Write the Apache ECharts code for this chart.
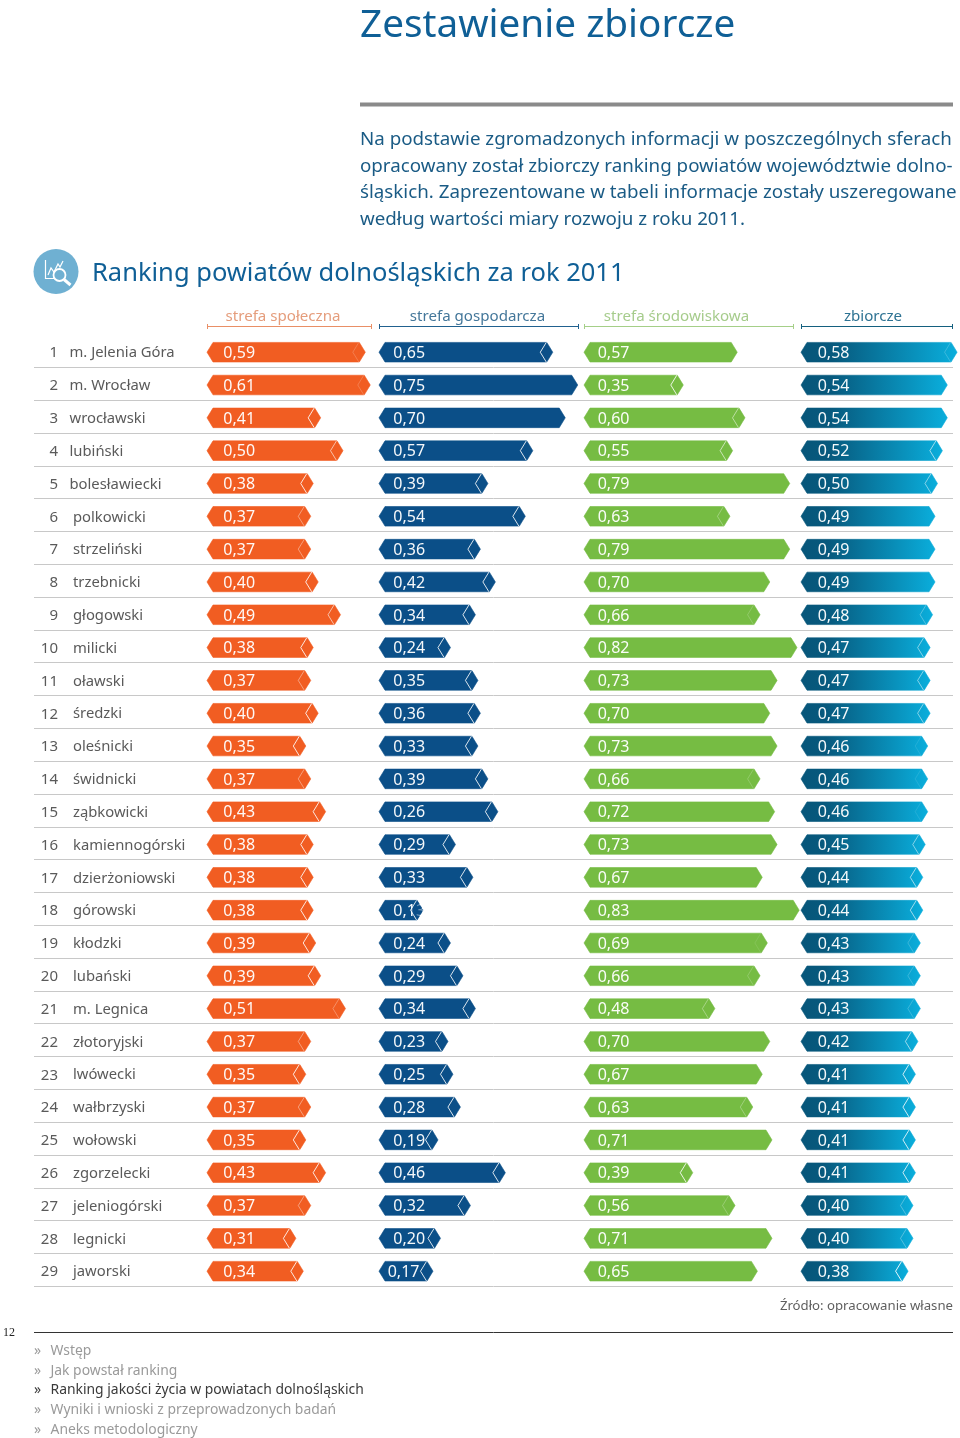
<!DOCTYPE html>
<html><head><meta charset="utf-8">
<style>html,body{margin:0;padding:0;background:#fff}#c{width:960px;height:1438px}</style>
<script src="https://cdn.jsdelivr.net/npm/echarts@6/dist/echarts.min.js"></script>
</head><body><div id="c"></div>
<script>
var powiaty = ["m. Jelenia Góra","m. Wrocław","wrocławski","lubiński","bolesławiecki","polkowicki","strzeliński","trzebnicki","głogowski","milicki","oławski","średzki","oleśnicki","świdnicki","ząbkowicki","kamiennogórski","dzierżoniowski","górowski","kłodzki","lubański","m. Legnica","złotoryjski","lwówecki","wałbrzyski","wołowski","zgorzelecki","jeleniogórski","legnicki","jaworski"];
var etykietySpoleczna = ["0,59","0,61","0,41","0,50","0,38","0,37","0,37","0,40","0,49","0,38","0,37","0,40","0,35","0,37","0,43","0,38","0,38","0,38","0,39","0,39","0,51","0,37","0,35","0,37","0,35","0,43","0,37","0,31","0,34"];
var etykietyGospodarcza = ["0,65","0,75","0,70","0,57","0,39","0,54","0,36","0,42","0,34","0,24","0,35","0,36","0,33","0,39","0,26","0,29","0,33","0,13","0,24","0,29","0,34","0,23","0,25","0,28","0,19","0,46","0,32","0,20","0,17"];
var etykietySrodowiskowa = ["0,57","0,35","0,60","0,55","0,79","0,63","0,79","0,70","0,66","0,82","0,73","0,70","0,73","0,66","0,72","0,73","0,67","0,83","0,69","0,66","0,48","0,70","0,67","0,63","0,71","0,39","0,56","0,71","0,65"];
var etykietyZbiorcze = ["0,58","0,54","0,54","0,52","0,50","0,49","0,49","0,49","0,48","0,47","0,47","0,47","0,46","0,46","0,46","0,45","0,44","0,44","0,43","0,43","0,43","0,42","0,41","0,41","0,41","0,41","0,40","0,40","0,38"];
// bar lengths as drawn in the picture (a few differ from their printed labels)
var paskiSpoleczna = [0.59,0.61,0.41,0.50,0.38,0.37,0.37,0.40,0.49,0.38,0.37,0.40,0.35,0.37,0.43,0.38,0.38,0.38,0.39,0.41,0.51,0.37,0.35,0.37,0.35,0.43,0.37,0.31,0.34];
var paskiGospodarcza = [0.65,0.75,0.70,0.57,0.39,0.54,0.36,0.42,0.34,0.24,0.35,0.36,0.35,0.39,0.43,0.26,0.33,0.13,0.24,0.29,0.34,0.23,0.25,0.28,0.19,0.46,0.32,0.20,0.17];
var paskiSrodowiskowa = [0.573,0.351,0.605,0.554,0.789,0.543,0.789,0.707,0.667,0.819,0.737,0.707,0.737,0.667,0.727,0.737,0.676,0.828,0.697,0.667,0.481,0.707,0.676,0.637,0.716,0.390,0.564,0.716,0.656];
var paskiZbiorcze = [0.58,0.54,0.54,0.52,0.50,0.49,0.49,0.49,0.48,0.47,0.47,0.47,0.46,0.46,0.46,0.45,0.44,0.44,0.43,0.43,0.43,0.42,0.41,0.41,0.41,0.41,0.40,0.40,0.38];
var naglowki = ["strefa społeczna","strefa gospodarcza","strefa środowiskowa","zbiorcze"];
var akapit = ["Na podstawie zgromadzonych informacji w poszczególnych sferach","opracowany został zbiorczy ranking powiatów województwie dolno-","śląskich. Zaprezentowane w tabeli informacje zostały uszeregowane","według wartości miary rozwoju z roku 2011."];
var nawigacja = ["Wstęp","Jak powstał ranking","Ranking jakości życia w powiatach dolnośląskich","Wyniki i wnioski z przeprowadzonych badań","Aneks metodologiczny"];

var FONT = '"Noto Sans"';
var gradZb = new echarts.graphic.LinearGradient(0,0,1,0,[{offset:0,color:'#07567a'},{offset:0.2,color:'#07597d'},{offset:1,color:'#0aaedc'}]);
var columns = [
 {left:207,b:248,zero:219,maxV:0.9,fill:'#f15d22',lab:etykietySpoleczna,val:paskiSpoleczna,off:16.3,brEnd:372,head:283,line:'#e98f66',text:'#e59d7c',
  fade:{'0,37':.4,'0,49':.6,'0,50':.6,'0,51':.3,'0,59':.2,'0,61':.2}, def:.85},
 {left:379,b:249.5,zero:390.6,maxV:0.9,fill:'#0b4f88',lab:etykietyGospodarcza,val:paskiGospodarcza,off:14.3,brEnd:579,head:477.5,line:'#21618f',text:'#44779a',
  fade:{'0,70':0,'0,75':0}, def:.85},
 {left:584,b:243,zero:598,maxV:0.9,fill:'#76bc43',lab:etykietySrodowiskowa,val:paskiSrodowiskowa,off:13.7,brEnd:794,head:676.5,line:'#a5cf88',text:'#a6cc8c',
  fade:{'0,35':.85,'0,39':.85,'0,48':.35,'0,55':.6,'0,56':.25,'0,60':.5,'0,63':.3,'0,66':.2,'0,69':.1}, def:0},
 {left:801,b:245,zero:815,maxV:0.59,fill:gradZb,lab:etykietyZbiorcze,val:paskiZbiorcze,off:16.7,brEnd:953,head:873,line:'#14607f',text:'#2e7393',
  fade:{'0,38':.9,'0,40':.3,'0,41':.8,'0,42':.6,'0,43':.2,'0,44':.6,'0,45':.5,'0,46':.1,'0,47':.5,'0,48':.3,'0,49':0,'0,50':.5,'0,52':.6,'0,54':0,'0,58':.2}, def:.5}
];
var ROWS_H = 951.8;
var grids=[],xAxes=[],yAxes=[],series=[];
// table frame: separators + row names
grids.push({left:34,width:919,top:334.5,height:ROWS_H});
xAxes.push({type:'value',show:false,min:0,max:1,gridIndex:0});
yAxes.push({type:'category',inverse:true,gridIndex:0,data:powiaty,axisLine:{show:false},axisTick:{show:false},axisLabel:{show:false},
  splitLine:{show:true,showMinLine:false,showMaxLine:true,lineStyle:{color:'#c8c8c8',width:1}}});
series.push({type:'custom',xAxisIndex:0,yAxisIndex:0,silent:true,clip:false,animation:false,
  data:powiaty.map(function(n,i){return [0,i];}),
  renderItem:function(p,api){
    var i=p.dataIndex, y=api.coord([0,i])[1]+2.3, nameX = i<5?69.5:73;
    return {type:'group',children:[
      {type:'text',style:{text:String(i+1),x:58,y:y,align:'right',verticalAlign:'middle',fill:'#5a5a5a',fontSize:15,fontFamily:FONT}},
      {type:'text',style:{text:powiaty[i],x:nameX,y:y,align:'left',verticalAlign:'middle',fill:'#5a5a5a',fontSize:14.8,fontFamily:FONT}}
    ]};
  }});
columns.forEach(function(c,k){
  var min=-(c.zero-c.left)/c.b, gi=k+1;
  grids.push({left:c.left,width:c.b*(c.maxV-min),top:335.8,height:ROWS_H});
  xAxes.push({type:'value',show:false,gridIndex:gi,min:min,max:c.maxV});
  yAxes.push({type:'category',show:false,inverse:true,gridIndex:gi,data:powiaty});
  series.push({type:'custom',xAxisIndex:gi,yAxisIndex:gi,silent:true,clip:false,animation:false,
    data:c.val.map(function(v,i){return [v,i];}),
    renderItem:function(p,api){
      var i=p.dataIndex, pt=api.coord([api.value(0),api.value(1)]), tip=pt[0], y=pt[1];
      var L=p.coordSys.x, h=9.8, t=6, lab=c.lab[i];
      var a=(lab in c.fade)?c.fade[lab]:c.def;
      var dx=(lab==='0,17')?-5.6:0;
      var tx=L+c.off+dx;
      var kids=[{type:'polygon',shape:{points:[[L,y],[L+t,y-h],[tip-t,y-h],[tip,y],[tip-t,y+h],[L+t,y+h]]},
        style:{fill:c.fill,stroke:c.fill,lineWidth:.6,lineJoin:'round'}},
        {type:'text',style:{text:lab,x:tx,y:y+1.2,align:'left',verticalAlign:'middle',fill:'#fff',opacity:.96,fontSize:16,fontFamily:FONT}}];
      if(tx+31>tip-12){ kids.push({type:'polygon',shape:{points:[[tip-t,y-h],[tip,y],[tip-t,y+h],[tip-12,y]]},style:{fill:c.fill,opacity:.6}}); }
      if(a>0){ kids.push({type:'polyline',shape:{points:[[tip-t-.5,y-h],[tip-12.5,y],[tip-t-.5,y+h]]},style:{fill:null,stroke:'rgba(255,255,255,'+a+')',lineWidth:1}}); }
      return {type:'group',children:kids};
    }});
});

var g=[];
function txt(s,x,y,size,fill,align,extra){ var o={type:'text',silent:true,style:{text:s,x:x,y:y,align:align||'left',verticalAlign:'middle',fontSize:size,fill:fill,fontFamily:(extra&&extra.font)||FONT}}; g.push(o); }
function ln(x1,y1,x2,y2,color,w){ g.push({type:'line',silent:true,shape:{x1:x1,y1:y1,x2:x2,y2:y2},style:{stroke:color,lineWidth:w}}); }
txt("Zestawienie zbiorcze",360,25.5,38.7,'#0f5f96');
ln(360,104.5,953,104.5,'#8a8a8a',4);
akapit.forEach(function(s,i){ txt(s,360,[140,166.5,193,219.5][i],18.75,'#1a5b85'); });
// icon
g.push({type:'circle',silent:true,shape:{cx:56,cy:271.5,r:22.5},style:{fill:'#6fb0d2'}});
g.push({type:'polyline',silent:true,shape:{points:[[45.5,260],[45.5,278.5],[56,278.5]]},style:{stroke:'#fff',lineWidth:1.2,fill:null}});
g.push({type:'polyline',silent:true,shape:{points:[[48,275],[51,268],[54,272],[58,264],[60,267],[63,261]]},style:{stroke:'#fff',lineWidth:1.2,fill:null}});
g.push({type:'circle',silent:true,shape:{cx:59.5,cy:275,r:6},style:{stroke:'#fff',lineWidth:1.8,fill:'#6fb0d2'}});
ln(64,279.5,70.5,285,'#fff',3);
txt("Ranking powiatów dolnośląskich za rok 2011",92,273.5,25.5,'#0f5f96');
columns.forEach(function(c,k){
  txt(naglowki[k],c.head,317,15.1,c.text,'center');
  ln(c.left,326.5,c.brEnd,326.5,c.line,1);
  ln(c.left+.5,324,c.left+.5,329,c.line,1);
  ln(c.brEnd-.5,324,c.brEnd-.5,329,c.line,1);
});
txt("Źródło: opracowanie własne",953,1306.5,13.2,'#5f5f5f','right');
txt("12",3,1333,12,'#222','left',{font:'"Liberation Serif"'});
ln(34,1332.5,953,1332.5,'#333',1);
nawigacja.forEach(function(s,i){
  var y=[1351,1371,1390.5,1410,1430][i], col=i===2?'#3a3a3a':'#9a9a9a';
  txt("»",34,y,14,col); txt(s,50.5,y,13.9,col);
});

var chart=echarts.init(document.getElementById('c'),null,{renderer:'canvas',width:960,height:1438});
chart.setOption({animation:false,backgroundColor:'#fff',grid:grids,xAxis:xAxes,yAxis:yAxes,series:series,graphic:{elements:g}});
</script></body></html>
